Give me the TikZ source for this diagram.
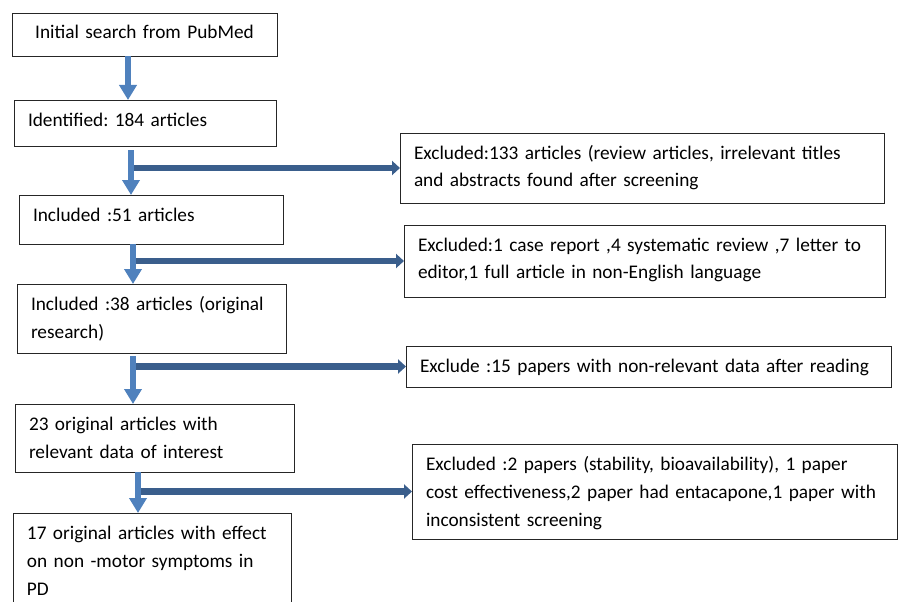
\documentclass[tikz,border=0pt]{standalone}
\usepackage{fontspec}
\setmainfont{Carlito}
\usetikzlibrary{arrows.meta}
\definecolor{shaftblue}{RGB}{79,129,189}
\definecolor{sideblue}{RGB}{58,94,140}
\newcommand{\flowfont}{\fontsize{19.3pt}{28pt}\selectfont\frenchspacing\hyphenpenalty=10000}

\begin{document}
\begin{tikzpicture}[x=1pt,y=-1pt,
  box/.style 2 args={draw=black!85,line width=0.9pt,anchor=north west,inner xsep=14pt,inner ysep=0pt,outer sep=0pt,align=left,font=\flowfont,text width=#1,text height=26pt,text depth=#2},
  down/.style={draw=shaftblue,line width=6.5pt,-{Triangle[width=17pt,length=15pt]}},
  side/.style={draw=sideblue,line width=6.5pt,-{Triangle[width=14pt,length=8pt]}}]
\useasboundingbox (0,0) rectangle (898,602);
% left column
\node[box={237pt}{17pt},align=center] (init) at (12,13) {Initial search from PubMed};
\node[box={234pt}{20pt}] (ident) at (14,100) {Identified: 184 articles};
\node[box={236pt}{23pt}] (incl51) at (19,195) {Included :51 articles};
\node[box={241pt}{43pt}] (incl38) at (17,284) {Included :38 articles (original\\research)};
\node[box={251pt}{42pt}] (orig23) at (15,404) {23 original articles with\\relevant data of interest};
\node[box={250pt}{84pt}] (orig17) at (13,513) {17 original articles with effect\\on non -motor symptoms in\\PD};
% right column
\node[box={456pt}{44pt}] (excl133) at (400,133) {Excluded:133 articles (review articles, irrelevant titles\\and abstracts found after screening};
\node[box={453pt}{46pt}] (excl13) at (404,225) {Excluded:1 case report ,4 systematic review ,7 letter to\\editor,1 full article in non-English language};
\node[box={457pt}{15pt}] (excl15) at (406,346) {Exclude :15 papers with non-relevant data after reading};
\node[box={457pt}{69pt}] (excl6) at (412,444) {Excluded :2 papers (stability, bioavailability), 1 paper\\cost effectiveness,2 paper had entacapone,1 paper with\\inconsistent screening};
% shafts
\coordinate (s1) at (128,0);
\coordinate (s2) at (131,0);
\coordinate (s3) at (133,0);
\coordinate (s4) at (133,0);
\coordinate (s5) at (138,0);
\draw[side] (excl133.west -| s2) -- (excl133.west);
\draw[side] (excl13.west -| s3) -- (excl13.west);
\draw[side] (excl15.west -| s4) -- (excl15.west);
\draw[side] (excl6.west -| s5) -- (excl6.west);
\draw[down] (init.south -| s1) -- (ident.north -| s1);
\draw[down,shorten <=4pt] (ident.south -| s2) -- (incl51.north -| s2);
\draw[down] (incl51.south -| s3) -- (incl38.north -| s3);
\draw[down,shorten <=3pt] (incl38.south -| s4) -- (orig23.north -| s4);
\draw[down] (orig23.south -| s5) -- (orig17.north -| s5);
\end{tikzpicture}
\end{document}
